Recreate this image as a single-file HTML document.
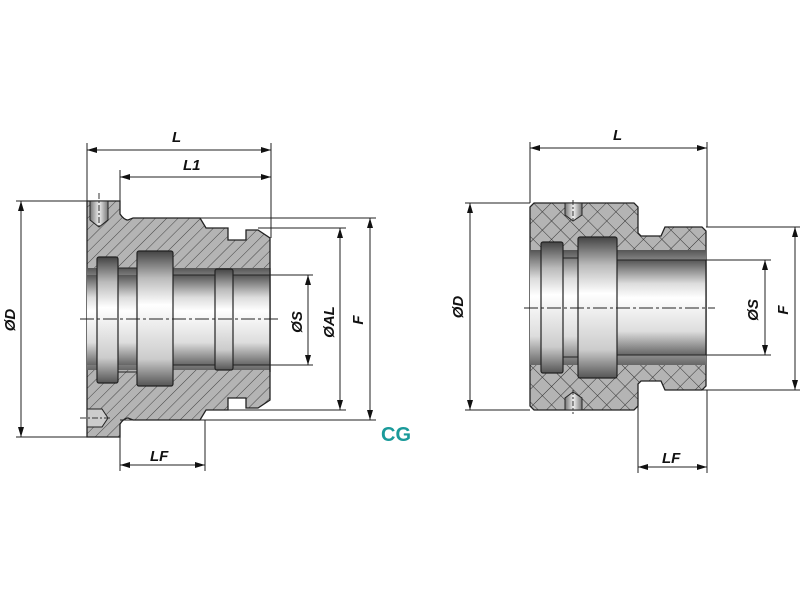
<!DOCTYPE html>
<html><head><meta charset="utf-8"><style>
html,body{margin:0;padding:0;background:#fff}
svg{display:block}
text{font-family:"Liberation Sans",sans-serif;font-weight:bold;font-style:italic;font-size:15px;fill:#111}
</style></head><body>
<svg width="800" height="600" viewBox="0 0 800 600" xmlns="http://www.w3.org/2000/svg">
<defs>
<pattern id="h1" width="8" height="8" patternUnits="userSpaceOnUse" patternTransform="rotate(45)">
<rect width="8" height="8" fill="#b4b4b4"/><line x1="0" y1="0" x2="0" y2="8" stroke="#444" stroke-width="1"/>
</pattern>
<pattern id="h2" width="13" height="13" patternUnits="userSpaceOnUse" patternTransform="rotate(45)">
<rect width="13" height="13" fill="#b4b4b4"/><line x1="0" y1="0" x2="0" y2="13" stroke="#333" stroke-width="1"/><line x1="0" y1="0" x2="13" y2="0" stroke="#333" stroke-width="1"/>
</pattern>
<linearGradient id="bore" x1="0" y1="0" x2="0" y2="1">
<stop offset="0" stop-color="#555"/><stop offset="0.25" stop-color="#ddd"/><stop offset="0.4" stop-color="#fff"/><stop offset="0.75" stop-color="#ddd"/><stop offset="1" stop-color="#666"/>
</linearGradient>
<linearGradient id="grv" x1="0" y1="0" x2="0" y2="1">
<stop offset="0" stop-color="#444"/><stop offset="0.2" stop-color="#bbb"/><stop offset="0.4" stop-color="#fff"/><stop offset="0.8" stop-color="#ccc"/><stop offset="1" stop-color="#555"/>
</linearGradient>
<linearGradient id="hole" x1="0" y1="0" x2="1" y2="0">
<stop offset="0" stop-color="#777"/><stop offset="0.5" stop-color="#eee"/><stop offset="1" stop-color="#777"/>
</linearGradient>
<marker id="ar" viewBox="0 0 10 6" refX="10" refY="3" markerWidth="10" markerHeight="6" orient="auto-start-reverse" markerUnits="userSpaceOnUse">
<path d="M0,0 L10,3 L0,6 z" fill="#111"/></marker>
</defs>

<!-- LEFT PART body -->
<path d="M87,201 H120 V214 Q124,220 128,220 L133,218 H200 L206,228 H228 V240 H246 V230 H258 L270,238 V400 L258,408 H246 V398 H228 V410 H206 L200,420 H133 L128,418 Q124,418 120,424 V437 H87 Z" fill="url(#h1)" stroke="#222" stroke-width="1.3"/>
<!-- bore -->
<rect x="87" y="268" width="183" height="102" fill="url(#bore)"/>
<rect x="87" y="275" width="183" height="90" fill="url(#bore)"/>
<rect x="97" y="257" width="21" height="126" rx="2" fill="url(#grv)" stroke="#222" stroke-width="1.2"/>
<rect x="137" y="251" width="36" height="135" rx="2" fill="url(#grv)" stroke="#222" stroke-width="1.2"/>
<rect x="215" y="269" width="18" height="101" rx="2" fill="url(#grv)" stroke="#222" stroke-width="1.2"/>
<line x1="173" y1="275" x2="215" y2="275" stroke="#222"/><line x1="173" y1="365" x2="215" y2="365" stroke="#222"/>
<line x1="233" y1="275" x2="270" y2="275" stroke="#222"/><line x1="233" y1="365" x2="270" y2="365" stroke="#222"/>
<line x1="118" y1="268" x2="137" y2="268" stroke="#222"/><line x1="118" y1="372" x2="137" y2="372" stroke="#222"/>
<line x1="270" y1="268" x2="270" y2="372" stroke="#222" stroke-width="1.3"/>
<!-- holes -->
<path d="M90,201 H108 V220 L99,227 L90,220 Z" fill="url(#hole)" stroke="#222"/>
<path d="M87,409 H102 L108,418 L102,427 H87 Z" fill="#ccc" stroke="#222"/>
<line x1="99" y1="193" x2="99" y2="228" stroke="#333" stroke-dasharray="6,2,2,2"/>
<line x1="80" y1="418" x2="110" y2="418" stroke="#333" stroke-dasharray="6,2,2,2"/>
<line x1="80" y1="319" x2="280" y2="319" stroke="#222" stroke-dasharray="14,3,3,3"/>

<!-- left dims -->
<g stroke="#222" stroke-width="1" fill="none">
<line x1="87" y1="143" x2="87" y2="201"/><line x1="271" y1="143" x2="271" y2="238"/>
<line x1="120" y1="170" x2="120" y2="201"/>
<line x1="87" y1="150" x2="271" y2="150" marker-start="url(#ar)" marker-end="url(#ar)"/>
<line x1="120" y1="177" x2="271" y2="177" marker-start="url(#ar)" marker-end="url(#ar)"/>
<line x1="16" y1="201" x2="87" y2="201"/><line x1="16" y1="437" x2="87" y2="437"/>
<line x1="21" y1="201" x2="21" y2="437" marker-start="url(#ar)" marker-end="url(#ar)"/>
<line x1="270" y1="275" x2="313" y2="275"/><line x1="270" y1="365" x2="313" y2="365"/>
<line x1="308" y1="275" x2="308" y2="365" marker-start="url(#ar)" marker-end="url(#ar)"/>
<line x1="258" y1="228" x2="346" y2="228"/><line x1="206" y1="410" x2="346" y2="410"/>
<line x1="340" y1="228" x2="340" y2="410" marker-start="url(#ar)" marker-end="url(#ar)"/>
<line x1="200" y1="218" x2="376" y2="218"/><line x1="120" y1="420" x2="376" y2="420"/>
<line x1="370" y1="218" x2="370" y2="420" marker-start="url(#ar)" marker-end="url(#ar)"/>
<line x1="120" y1="437" x2="120" y2="471"/><line x1="205" y1="420" x2="205" y2="471"/>
<line x1="120" y1="465" x2="205" y2="465" marker-start="url(#ar)" marker-end="url(#ar)"/>
</g>
<text x="172" y="142">L</text>
<text x="183" y="170">L1</text>
<text x="150" y="461">LF</text>
<text transform="translate(15,320) rotate(-90)" text-anchor="middle">ØD</text>
<text transform="translate(302,322) rotate(-90)" text-anchor="middle">ØS</text>
<text transform="translate(334,322) rotate(-90)" text-anchor="middle">ØAL</text>
<text transform="translate(363,320) rotate(-90)" text-anchor="middle">F</text>
<text x="381" y="441" style="font-style:normal;font-size:20px;fill:#1a9a9a;font-family:'Liberation Sans Narrow','Liberation Sans',sans-serif">CG</text>

<!-- RIGHT PART -->
<path d="M534,203 H634 L638,207 V233 L641,236 H661 L665,227 H702 L706,231 V386 L702,390 H665 L661,381 H641 L638,384 V406 L634,410 H534 L530,406 V207 Z" fill="url(#h2)" stroke="#222" stroke-width="1.3"/>
<rect x="530" y="250" width="176" height="115" fill="url(#bore)"/>
<rect x="617" y="260" width="89" height="95" fill="url(#bore)"/>
<line x1="617" y1="260" x2="706" y2="260" stroke="#222"/><line x1="617" y1="355" x2="706" y2="355" stroke="#222"/>
<rect x="541" y="242" width="22" height="131" rx="2" fill="url(#grv)" stroke="#222" stroke-width="1.2"/>
<rect x="578" y="237" width="39" height="141" rx="2" fill="url(#grv)" stroke="#222" stroke-width="1.2"/>
<line x1="563" y1="258" x2="578" y2="258" stroke="#222"/><line x1="563" y1="357" x2="578" y2="357" stroke="#222"/>
<line x1="706" y1="260" x2="706" y2="355" stroke="#222" stroke-width="1.3"/>
<path d="M565,203 H582 V215 L573,221 L565,215 Z" fill="url(#hole)" stroke="#222"/>
<path d="M565,410 H582 V398 L573,392 L565,398 Z" fill="url(#hole)" stroke="#222"/>
<line x1="573" y1="200" x2="573" y2="222" stroke="#333" stroke-dasharray="5,2,2,2"/>
<line x1="573" y1="390" x2="573" y2="414" stroke="#333" stroke-dasharray="5,2,2,2"/>
<line x1="524" y1="308" x2="715" y2="308" stroke="#222" stroke-dasharray="14,3,3,3"/>

<g stroke="#222" stroke-width="1" fill="none">
<line x1="530" y1="142" x2="530" y2="203"/><line x1="707" y1="142" x2="707" y2="227"/>
<line x1="530" y1="148" x2="707" y2="148" marker-start="url(#ar)" marker-end="url(#ar)"/>
<line x1="465" y1="203" x2="530" y2="203"/><line x1="465" y1="410" x2="530" y2="410"/>
<line x1="470" y1="203" x2="470" y2="410" marker-start="url(#ar)" marker-end="url(#ar)"/>
<line x1="706" y1="260" x2="771" y2="260"/><line x1="706" y1="355" x2="771" y2="355"/>
<line x1="765" y1="260" x2="765" y2="355" marker-start="url(#ar)" marker-end="url(#ar)"/>
<line x1="706" y1="227" x2="800" y2="227"/><line x1="665" y1="390" x2="800" y2="390"/>
<line x1="795" y1="227" x2="795" y2="390" marker-start="url(#ar)" marker-end="url(#ar)"/>
<line x1="638" y1="384" x2="638" y2="473"/><line x1="707" y1="390" x2="707" y2="473"/>
<line x1="638" y1="467" x2="707" y2="467" marker-start="url(#ar)" marker-end="url(#ar)"/>
</g>
<text x="613" y="140">L</text>
<text x="662" y="463">LF</text>
<text transform="translate(463,307) rotate(-90)" text-anchor="middle">ØD</text>
<text transform="translate(758,310) rotate(-90)" text-anchor="middle">ØS</text>
<text transform="translate(788,310) rotate(-90)" text-anchor="middle">F</text>
</svg>
</body></html>
